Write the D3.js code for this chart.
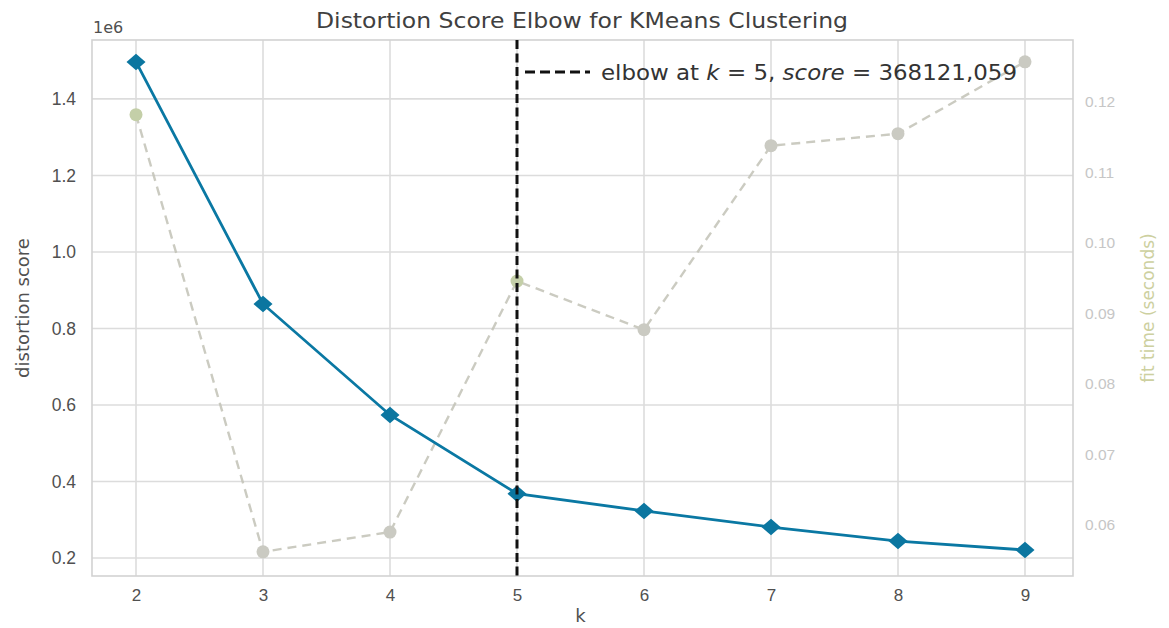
<!DOCTYPE html>
<html>
<head>
<meta charset="utf-8">
<script src="https://cdn.jsdelivr.net/npm/d3@7"></script>
<style>
  html, body { margin: 0; padding: 0; background: #ffffff; }
  svg { display: block; font-family: "DejaVu Sans", sans-serif; }
</style>
</head>
<body>
<svg id="chart" width="1169" height="628"></svg>
<script>
// Number of clusters tried
const kValues = [2, 3, 4, 5, 6, 7, 8, 9];
// Distortion score for each k
const distortion = [1496700, 864000, 574000, 368121.059, 323000, 281000, 244400, 221000];
// Fit time (seconds) for each k
const fitTime = [0.1182, 0.0562, 0.0590, 0.0946, 0.0877, 0.1138, 0.1155, 0.1257];
// Axis ticks
const leftTicks = [0.2e6, 0.4e6, 0.6e6, 0.8e6, 1.0e6, 1.2e6, 1.4e6];
const rightTicks = [0.06, 0.07, 0.08, 0.09, 0.10, 0.11, 0.12];
const elbowK = 5;
const elbowScore = "368121,059";

const svg = d3.select("#chart");
const m = { left: 92, right: 1073, top: 40, bottom: 576 };

const x = d3.scaleLinear().domain([1.6535, 9.378]).range([m.left, m.right]);
const y = d3.scaleLinear().domain([0.153e6, 1.554e6]).range([m.bottom, m.top]);
const y2 = d3.scaleLinear().domain([0.05277, 0.12879]).range([m.bottom, m.top]);

const gridColor = "#dcdcdc";
const textColor = "#505050";

// Grid
const grid = svg.append("g");
grid.selectAll("line.v").data(kValues).join("line")
  .attr("x1", d => x(d)).attr("x2", d => x(d))
  .attr("y1", m.top).attr("y2", m.bottom)
  .attr("stroke", gridColor).attr("stroke-width", 1.6);
grid.selectAll("line.h").data(leftTicks).join("line")
  .attr("x1", m.left).attr("x2", m.right)
  .attr("y1", d => y(d)).attr("y2", d => y(d))
  .attr("stroke", gridColor).attr("stroke-width", 1.6);

// Frame
svg.append("rect")
  .attr("x", m.left).attr("y", m.top)
  .attr("width", m.right - m.left).attr("height", m.bottom - m.top)
  .attr("fill", "none").attr("stroke", "#d2d2d2").attr("stroke-width", 1.6);

// Bottom axis
const xAxis = svg.append("g").attr("transform", `translate(0,${m.bottom})`)
  .call(d3.axisBottom(x).tickValues(kValues).tickSize(0).tickPadding(13).tickFormat(d3.format("d")));
xAxis.select(".domain").remove();
xAxis.selectAll("text").attr("fill", textColor).style("font-size", "17px");

// Left axis
const yAxis = svg.append("g").attr("transform", `translate(${m.left},0)`)
  .call(d3.axisLeft(y).tickValues(leftTicks).tickSize(0).tickPadding(16).tickFormat(d => d3.format(".1f")(d / 1e6)));
yAxis.select(".domain").remove();
yAxis.selectAll("text").attr("fill", textColor).style("font-size", "17.5px");

// Right axis
const y2Axis = svg.append("g").attr("transform", `translate(${m.right},0)`)
  .call(d3.axisRight(y2).tickValues(rightTicks).tickSize(0).tickPadding(12).tickFormat(d3.format(".2f")));
y2Axis.select(".domain").remove();
y2Axis.selectAll("text").attr("fill", "#c6c6c6").style("font-size", "15.5px");

// Offset label
svg.append("text").attr("x", m.left + 1).attr("y", 33)
  .attr("fill", textColor).style("font-size", "16px").text("1e6");

// Axis titles
svg.append("text").attr("x", x(5.5)).attr("y", 622).attr("text-anchor", "middle")
  .attr("fill", textColor).style("font-size", "18px").text("k");
svg.append("text").attr("transform", `translate(29,${(m.top + m.bottom) / 2}) rotate(-90)`)
  .attr("text-anchor", "middle").attr("fill", textColor).style("font-size", "18px").text("distortion score");
svg.append("text").attr("transform", `translate(1154,${(m.top + m.bottom) / 2}) rotate(-90)`)
  .attr("text-anchor", "middle").attr("fill", "#cdd0a0").style("font-size", "17px").text("fit time (seconds)");

// Title
svg.append("text").attr("x", 316).attr("y", 28)
  .attr("textLength", 532).attr("lengthAdjust", "spacingAndGlyphs")
  .attr("fill", "#404040").style("font-size", "21px").text("Distortion Score Elbow for KMeans Clustering");

// Fit time series (secondary axis)
svg.append("path").datum(kValues.map((k, i) => [k, fitTime[i]]))
  .attr("d", d3.line().x(d => x(d[0])).y(d => y2(d[1])))
  .attr("fill", "none").attr("stroke", "#c2c2b6").attr("stroke-width", 2.4)
  .attr("stroke-dasharray", "9,6").attr("opacity", 0.85);
svg.selectAll("circle.fit").data(kValues).join("circle")
  .attr("cx", d => x(d)).attr("cy", (d, i) => y2(fitTime[i])).attr("r", 6.5)
  .attr("fill", (d, i) => (i === 0 || i === 3) ? "#c4cfa8" : "#cacac2");

// Distortion series
const lineColor = "#0a78a3";
svg.append("path").datum(kValues.map((k, i) => [k, distortion[i]]))
  .attr("d", d3.line().x(d => x(d[0])).y(d => y(d[1])))
  .attr("fill", "none").attr("stroke", lineColor).attr("stroke-width", 2.8);
svg.selectAll("path.dia").data(kValues).join("path")
  .attr("d", d3.symbol(d3.symbolDiamond2, 175)())
  .attr("transform", (d, i) => `translate(${x(d)},${y(distortion[i])}) scale(1.15,1)`)
  .attr("fill", "#0b76a0");

// Elbow marker
svg.append("line").attr("x1", x(elbowK)).attr("x2", x(elbowK))
  .attr("y1", m.top).attr("y2", m.bottom)
  .attr("stroke", "#111").attr("stroke-width", 3).attr("stroke-dasharray", "9,4.5");

// Legend
svg.append("line").attr("x1", 525).attr("x2", 590).attr("y1", 72).attr("y2", 72)
  .attr("stroke", "#111").attr("stroke-width", 3).attr("stroke-dasharray", "10,5");
const leg = svg.append("text").attr("x", 601).attr("y", 80)
  .attr("textLength", 416).attr("lengthAdjust", "spacingAndGlyphs")
  .attr("fill", "#333").style("font-size", "21px");
leg.append("tspan").text("elbow at ");
leg.append("tspan").style("font-style", "italic").text("k");
leg.append("tspan").text(" = " + elbowK + ", ");
leg.append("tspan").style("font-style", "italic").text("score");
leg.append("tspan").text(" = " + elbowScore);
</script>
</body>
</html>
